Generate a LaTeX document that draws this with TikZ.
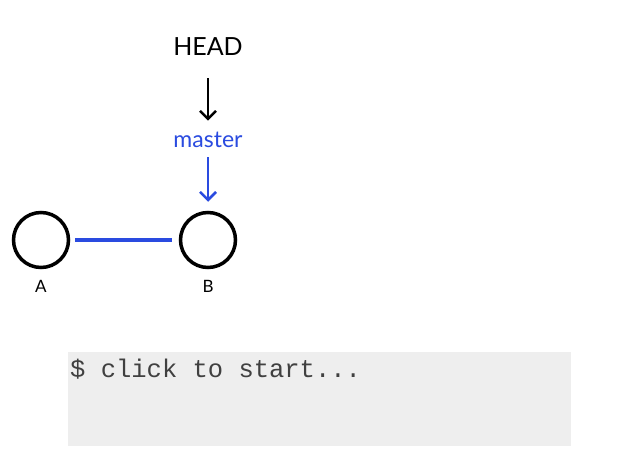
\documentclass[tikz,border=0pt]{standalone}
\usepackage{fontspec}
\setmainfont{Lato}
\setmonofont{Liberation Mono}
\usetikzlibrary{arrows.meta}
\definecolor{gitblue}{HTML}{2A4BE0}
\definecolor{termgray}{HTML}{EEEEEE}
\begin{document}
\begin{tikzpicture}[x=1pt,y=-1pt,
  commit/.style={circle,draw=black,line width=3.5pt,minimum size=55pt,inner sep=0pt},
  clabel/.style={font=\fontsize{17}{20}\selectfont,text=black},
  ptr/.style={-{Straight Barb[length=8pt,width=16pt,line width=2.5pt]},line width=2.8pt},
  link/.style={gitblue,line width=3.5pt,shorten <=5pt,shorten >=7pt}]
\useasboundingbox[fill=white] (0,0) rectangle (640,460);
\node[commit] (A) at (41,240) {};
\node[commit] (B) at (208,240) {};
\draw[link] (A) -- (B);
\node[clabel] (la) at (41,286) {A};
\node[clabel] (lb) at (208,286) {B};
\node[font=\fontsize{25}{28}\selectfont] (head) at (208,47) {HEAD};
\node[font=\fontsize{23}{26}\selectfont,text=gitblue] (master) at (208,140) {master};
\draw[ptr,black,shorten <=19pt,shorten >=8pt] (head.south) -- (master.north);
\draw[ptr,gitblue,shorten <=6pt,shorten >=9pt] (master.south) -- (B.north);
\node[fill=termgray,minimum width=503pt,minimum height=94pt,inner sep=0pt] (term) at (319.5,399) {};
\node[anchor=base west,font=\ttfamily\fontsize{25.5}{28}\selectfont,text=black!75,inner sep=0pt] (cmd) at (70,377) {\$ click to start...};
\end{tikzpicture}
\end{document}
